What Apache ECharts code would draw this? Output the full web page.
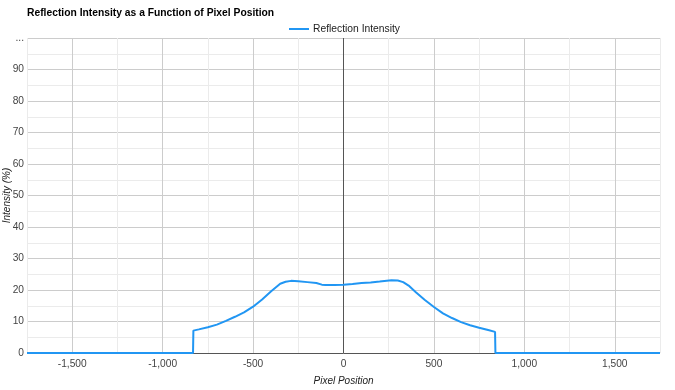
<!DOCTYPE html>
<html>
<head>
<meta charset="utf-8">
<script src="https://cdn.jsdelivr.net/npm/echarts@6/dist/echarts.min.js"></script>
<style>
html,body{margin:0;padding:0;background:#fff;}
#chart{width:675px;height:390px;}
</style>
</head>
<body>
<div id="chart"></div>
<script>
var pixelPosition = [-1750, -832, -830, -800, -750, -700, -650, -600, -550, -500, -450, -400, -350, -320, -290, -250, -200, -150, -120, -100, -50, 0, 50, 100, 150, 200, 265, 300, 330, 360, 400, 450, 500, 550, 600, 650, 700, 750, 800, 838, 840, 1750];
var reflectionIntensity = [0, 0, 7.1, 7.5, 8.2, 9.0, 10.2, 11.5, 12.9, 14.7, 17.0, 19.6, 22.0, 22.6, 22.9, 22.8, 22.5, 22.2, 21.7, 21.6, 21.6, 21.7, 21.9, 22.2, 22.4, 22.7, 23.1, 23.0, 22.5, 21.4, 19.3, 16.8, 14.6, 12.6, 11.1, 9.8, 8.8, 8.0, 7.3, 6.7, 0, 0];
var seriesName = 'Reflection Intensity';
var chartTitle = 'Reflection Intensity as a Function of Pixel Position';

var data = pixelPosition.map(function (x, i) { return [x, reflectionIntensity[i]]; });
var FONT = 'Liberation Sans, Arial, sans-serif';
var chart = echarts.init(document.getElementById('chart'), null, {renderer: 'canvas'});
chart.setOption({
  animation: false,
  title: {
    text: chartTitle, left: 22, top: 3,
    textStyle: {fontFamily: FONT, fontSize: 10.3, fontWeight: 'bold', color: '#000'}
  },
  legend: {
    top: 19, left: 284,
    itemWidth: 20, itemHeight: 2, icon: 'rect', itemGap: 6,
    textStyle: {fontFamily: FONT, fontSize: 10.3, color: '#222', padding: [0, 0, 0, -1]},
    data: [seriesName]
  },
  grid: {left: 27, right: 15, top: 38, bottom: 37, containLabel: false, outerBoundsMode: 'none'},
  xAxis: {
    type: 'value', min: -1750, max: 1750, interval: 250,
    name: 'Pixel Position', nameLocation: 'middle', nameGap: 23, nameMoveOverlap: false,
    nameTextStyle: {fontFamily: FONT, fontSize: 10, fontStyle: 'italic', color: '#222'},
    axisLine: {show: false},
    axisTick: {show: false},
    axisLabel: {
      fontFamily: FONT, fontSize: 10.2, color: '#444', margin: 6,
      formatter: function (v) {
        if (v % 500 !== 0 || Math.abs(v) >= 1750) return '';
        return v.toLocaleString('en-US');
      }
    },
    splitLine: {show: true, lineStyle: {color: ['#ebebeb', '#cccccc'], width: 1}}
  },
  yAxis: {
    type: 'value', min: 0, max: 100, interval: 5,
    name: 'Intensity (%)', nameLocation: 'middle', nameGap: 15, nameMoveOverlap: false,
    nameTextStyle: {fontFamily: FONT, fontSize: 10, fontStyle: 'italic', color: '#222'},
    axisLine: {show: false},
    axisTick: {show: false},
    axisLabel: {
      fontFamily: FONT, fontSize: 10.2, color: '#444', margin: 3,
      formatter: function (v) {
        if (v === 100) return '...';
        if (v % 10 !== 0) return '';
        return String(v);
      }
    },
    splitLine: {show: true, lineStyle: {color: ['#cccccc', '#ebebeb'], width: 1}}
  },
  series: [{
    name: seriesName,
    type: 'line',
    data: data,
    showSymbol: false,
    symbol: 'none',
    lineStyle: {color: '#2196f3', width: 2},
    itemStyle: {color: '#2196f3'},
    z: 3,
    markLine: {
      silent: true, symbol: 'none', label: {show: false},
      lineStyle: {color: '#555', width: 1, type: 'solid'},
      data: [{xAxis: 0}, {yAxis: 0}],
      z: 2
    }
  }]
});
</script>
</body>
</html>
